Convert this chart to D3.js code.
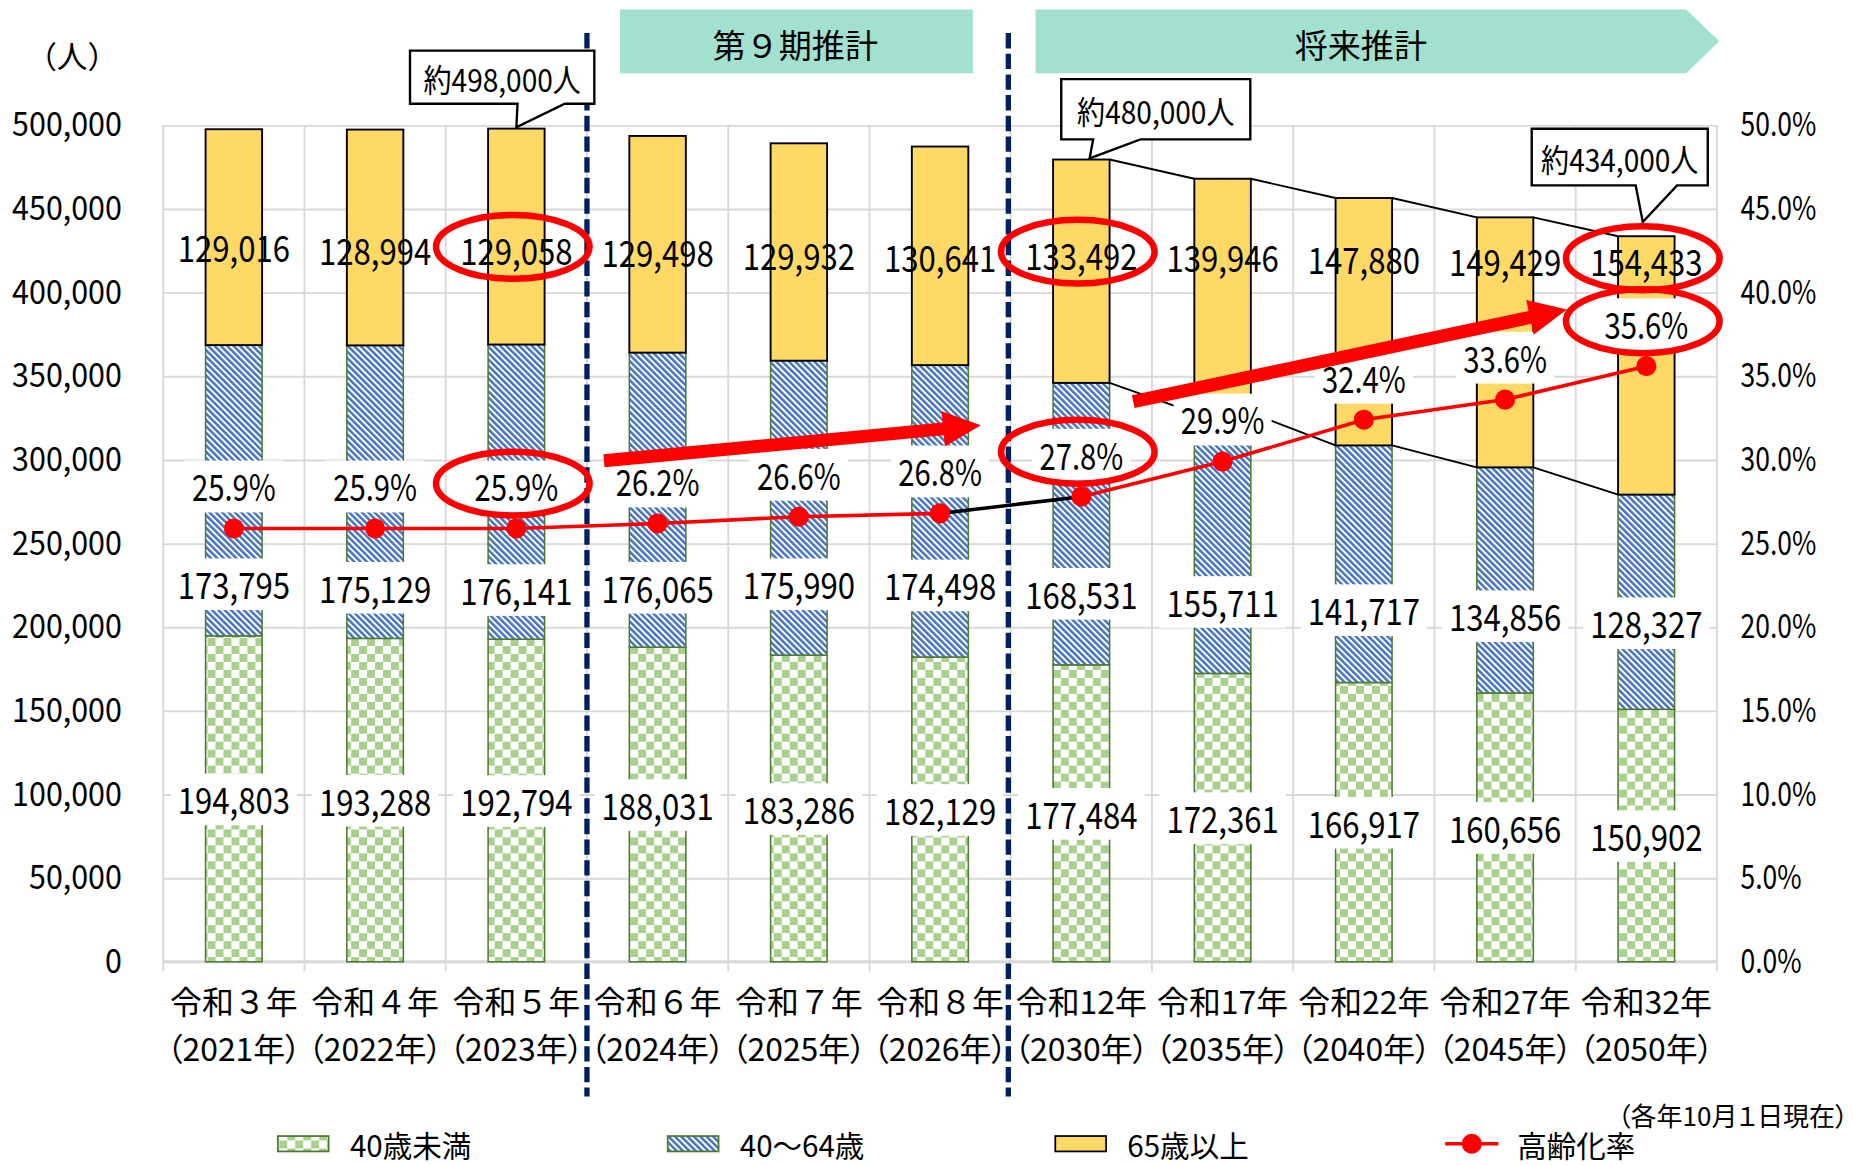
<!DOCTYPE html>
<html>
<head>
<meta charset="utf-8">
<script src="https://cdn.jsdelivr.net/npm/d3@7"></script>
<style>
  body { margin: 0; background: #fff; }
  svg text { font-family: "Noto Sans CJK JP", sans-serif; fill: #000; }
  .palt { font-feature-settings: "palt"; }
</style>
</head>
<body>
<div id="canvas"></div>
<script>
const categories = ["令和３年","令和４年","令和５年","令和６年","令和７年","令和８年","令和12年","令和17年","令和22年","令和27年","令和32年"];
const years = ["（2021年）","（2022年）","（2023年）","（2024年）","（2025年）","（2026年）","（2030年）","（2035年）","（2040年）","（2045年）","（2050年）"];
const under40 = [194803,193288,192794,188031,183286,182129,177484,172361,166917,160656,150902];
const age40to64 = [173795,175129,176141,176065,175990,174498,168531,155711,141717,134856,128327];
const age65plus = [129016,128994,129058,129498,129932,130641,133492,139946,147880,149429,154433];
const agingRate = [25.9,25.9,25.9,26.2,26.6,26.8,27.8,29.9,32.4,33.6,35.6];
const leftTicks = [0,50000,100000,150000,200000,250000,300000,350000,400000,450000,500000];
const rightTicks = [0,5,10,15,20,25,30,35,40,45,50];
const seriesNames = ["40歳未満","40～64歳","65歳以上","高齢化率"];
const periods = ["第９期推計","将来推計"];
const totalNotes = ["約498,000人","約480,000人","約434,000人"];
const totalNoteAt = [2,6,10];
const unitLabel = "（人）";
const dateNote = "（各年10月１日現在）";
// the source chart has the 40-64 and 65+ labels dragged by hand, these are where they sit (people)
const midLabelAt = [226000,223900,222500,223900,226000,225300,220300,215400,210500,206900,202700];
const topLabelAt = [427300,425900,425900,424400,423000,421600,423000,421600,420200,419100,419100];

const W = 1568, H = 986;
const pL = 138, pR = 1453, pT = 106, pB = 814;
// the original uses a narrow face for figures, squeeze ours horizontally
const sqTick = 0.92, sqNum = 0.85, sqPct = 0.8;

const svg = d3.select("#canvas").append("svg")
  .attr("width", 1853).attr("height", 1165)
  .attr("viewBox", `0 0 ${W} ${H}`);

const defs = svg.append("defs");
const chk = defs.append("pattern").attr("id", "chk").attr("patternUnits", "userSpaceOnUse")
  .attr("width", 13.5).attr("height", 13.5);
chk.append("rect").attr("width", 13.5).attr("height", 13.5).attr("fill", "#fff");
chk.append("rect").attr("width", 6.75).attr("height", 6.75).attr("fill", "#a9d18e");
chk.append("rect").attr("x", 6.75).attr("y", 6.75).attr("width", 6.75).attr("height", 6.75).attr("fill", "#a9d18e");
const stripe = defs.append("pattern").attr("id", "stripe").attr("patternUnits", "userSpaceOnUse")
  .attr("width", 3.8).attr("height", 10).attr("patternTransform", "rotate(-45)");
stripe.append("rect").attr("width", 3.8).attr("height", 10).attr("fill", "#fff");
stripe.append("rect").attr("width", 2.1).attr("height", 10).attr("fill", "#4472c4");

const x = d3.scaleBand().domain(categories).range([pL, pR]).paddingInner(0.6).paddingOuter(0.3);
const y = d3.scaleLinear().domain([0, 500000]).range([pB, pT]);
const yR = d3.scaleLinear().domain([0, 50]).range([pB, pT]);
const step = x.step(), bw = x.bandwidth();
const cx = i => x(categories[i]) + bw / 2;
const edge = i => pL + step * i;

// grid + axes
svg.append("g").attr("transform", `translate(${pL},0)`)
  .call(d3.axisLeft(y).tickValues(leftTicks).tickSize(-(pR - pL)).tickPadding(35).tickFormat(d3.format(",")))
  .call(g => g.select(".domain").remove())
  .call(g => g.selectAll(".tick line").attr("stroke", "#d9d9d9").attr("stroke-width", 1.6))
  .call(g => g.selectAll(".tick text").attr("font-size", 28).attr("font-family", null)
    .attr("transform", `scale(${sqTick},1)`).attr("x", -35 / sqTick));
svg.append("g").attr("transform", `translate(${pR},0)`)
  .call(d3.axisRight(yR).tickValues(rightTicks).tickSize(0).tickPadding(20).tickFormat(d => d.toFixed(1) + "%"))
  .call(g => g.select(".domain").remove())
  .call(g => g.selectAll(".tick text").attr("font-size", 28).attr("font-family", null)
    .attr("transform", `scale(${sqPct},1)`).attr("x", 20 / sqPct));
svg.append("g").selectAll("line").data(d3.range(categories.length + 1)).join("line")
  .attr("x1", edge).attr("x2", edge).attr("y1", pT).attr("y2", pB + 8)
  .attr("stroke", "#d9d9d9").attr("stroke-width", 1.6);
svg.append("line").attr("x1", pL).attr("x2", pR).attr("y1", pB).attr("y2", pB)
  .attr("stroke", "#d9d9d9").attr("stroke-width", 2.4);

// stacked bars
const stackData = categories.map((c, i) => ({ c, a: under40[i], b: age40to64[i], d: age65plus[i] }));
const stack = d3.stack().keys(["a", "b", "d"])(stackData);
const fills = ["url(#chk)", "url(#stripe)", "#ffd966"];
const strokes = ["#4e7a2f", "#4e7a2f", "#000"];
stack.forEach((layer, k) => {
  svg.append("g").selectAll("rect").data(layer).join("rect")
    .attr("x", d => x(d.data.c)).attr("width", bw)
    .attr("y", d => y(d[1])).attr("height", d => y(d[0]) - y(d[1]))
    .attr("fill", fills[k]).attr("stroke", strokes[k]).attr("stroke-width", k === 2 ? 1.6 : 1.3);
});

// series lines on the future projection part
const sl = svg.append("g").attr("stroke", "#000").attr("stroke-width", 1.6);
[stack[1], stack[2]].forEach(layer => {
  for (let i = 6; i < categories.length - 1; i++) {
    sl.append("line")
      .attr("x1", x(categories[i]) + bw).attr("y1", y(layer[i][1]))
      .attr("x2", x(categories[i + 1])).attr("y2", y(layer[i + 1][1]));
  }
});

// aging rate line
const pts = agingRate.map((r, i) => [cx(i), yR(r)]);
const line = d3.line();
svg.append("path").attr("d", line(pts.slice(0, 6))).attr("fill", "none").attr("stroke", "#ff0000").attr("stroke-width", 3);
svg.append("path").attr("d", line(pts.slice(5, 7))).attr("fill", "none").attr("stroke", "#000").attr("stroke-width", 3);
svg.append("path").attr("d", line(pts.slice(6))).attr("fill", "none").attr("stroke", "#ff0000").attr("stroke-width", 3);
svg.append("g").selectAll("circle").data(pts).join("circle")
  .attr("cx", d => d[0]).attr("cy", d => d[1]).attr("r", 8.5).attr("fill", "#ff0000");

// data labels
const fmt = d3.format(",");
function label(px, py, str, boxed, f) {
  const g = svg.append("g").attr("transform", `translate(${px},${py}) scale(${f},1)`);
  const rect = boxed ? g.append("rect").attr("fill", "#fff") : null;
  const t = g.append("text").attr("text-anchor", "middle")
    .attr("dominant-baseline", "central").attr("font-size", 31).text(str);
  if (rect) {
    const b = t.node().getBBox();
    rect.attr("x", b.x - 6 / f).attr("y", b.y + 1).attr("width", b.width + 12 / f).attr("height", b.height - 1);
  }
  return [px, py];
}
const labelPos = { top: [], rate: [] };
categories.forEach((c, i) => {
  label(cx(i), y(under40[i] / 2), fmt(under40[i]), true, sqNum);
  label(cx(i), y(midLabelAt[i]), fmt(age40to64[i]), true, sqNum);
  labelPos.top.push(label(cx(i), y(topLabelAt[i]), fmt(age65plus[i]), false, sqNum));
  labelPos.rate.push(label(cx(i), yR(agingRate[i]) - 36, agingRate[i].toFixed(1) + "%", true, sqPct));
});

// period separators
const seps = [edge(3), edge(6) - 2];
svg.append("g").selectAll("line").data(seps).join("line")
  .attr("x1", d => d).attr("x2", d => d).attr("y1", 28).attr("y2", 928)
  .attr("stroke", "#002060").attr("stroke-width", 4.5).attr("stroke-dasharray", "13,4.5");

// period headers
svg.append("rect").attr("x", seps[0] + 28).attr("y", 8).attr("width", seps[1] - seps[0] - 58).attr("height", 54)
  .attr("fill", "#a2e1d0");
svg.append("text").attr("x", (seps[0] + seps[1]) / 2 - 2).attr("y", 37).attr("text-anchor", "middle")
  .attr("dominant-baseline", "central").attr("font-size", 28).text(periods[0]);
const hx0 = seps[1] + 23, hx1 = pR - 26, hx2 = pR + 2;
svg.append("path").attr("d", `M${hx0},8H${hx1}L${hx2},35L${hx1},62H${hx0}Z`).attr("fill", "#a2e1d0");
svg.append("text").attr("x", (hx0 + hx1) / 2).attr("y", 37).attr("text-anchor", "middle")
  .attr("dominant-baseline", "central").attr("font-size", 28).text(periods[1]);

// total callouts
const calloutLayout = [
  { tip: [0, -1], box: [-90, -66, 66, -21], base: [1, 41] },
  { tip: [7, -1], box: [-17, -68, 143, -17], base: [10, 50] },
  { tip: [-3, -12], box: [-97, -91, 52, -43], base: [-9, 26] }
];
totalNoteAt.forEach((i, k) => {
  const L = calloutLayout[k];
  const bx = cx(i), by = y(under40[i] + age40to64[i] + age65plus[i]);
  const tx = bx + L.tip[0], ty = by + L.tip[1];
  const x0 = bx + L.box[0], y0 = by + L.box[1], x1 = bx + L.box[2], y1 = by + L.box[3];
  svg.append("path")
    .attr("d", `M${x0},${y0}H${x1}V${y1}H${bx + L.base[1]}L${tx},${ty}L${bx + L.base[0]},${y1}H${x0}Z`)
    .attr("fill", "#fff").attr("stroke", "#000").attr("stroke-width", 2);
  svg.append("text").attr("transform", `translate(${(x0 + x1) / 2},${(y0 + y1) / 2 + 1}) scale(0.88,1)`)
    .attr("text-anchor", "middle").attr("dominant-baseline", "central").attr("font-size", 27).text(totalNotes[k]);
});

// big red trend arrows
function arrowPath(x1, y1, x2, y2, shaft, headLen, headW) {
  const L = Math.hypot(x2 - x1, y2 - y1), ux = (x2 - x1) / L, uy = (y2 - y1) / L, nx = -uy, ny = ux;
  const bx = x2 - ux * headLen, by = y2 - uy * headLen;
  const p = [
    [x1 + nx * shaft / 2, y1 + ny * shaft / 2], [bx + nx * shaft / 2, by + ny * shaft / 2],
    [bx + nx * headW / 2, by + ny * headW / 2], [x2, y2],
    [bx - nx * headW / 2, by - ny * headW / 2], [bx - nx * shaft / 2, by - ny * shaft / 2],
    [x1 - nx * shaft / 2, y1 - ny * shaft / 2]
  ];
  return "M" + p.map(q => q.join(",")).join("L") + "Z";
}
svg.append("path").attr("d", arrowPath(511, 390, 830, 360, 11, 32, 30)).attr("fill", "#ff0000");
svg.append("path").attr("d", arrowPath(959, 340, 1326, 262, 11, 32, 30)).attr("fill", "#ff0000");

// highlight rings
const rings = [["top", 2], ["rate", 2], ["top", 6], ["rate", 6], ["top", 10], ["rate", 10]];
svg.append("g").selectAll("ellipse").data(rings).join("ellipse")
  .attr("cx", d => labelPos[d[0]][d[1]][0] - 3).attr("cy", d => labelPos[d[0]][d[1]][1] - 2)
  .attr("rx", 65).attr("ry", 27)
  .attr("fill", "none").attr("stroke", "#ff0000").attr("stroke-width", 5.5);

// category labels, two lines
const xl = svg.append("g").attr("text-anchor", "middle").attr("font-size", 27);
categories.forEach((c, i) => {
  xl.append("text").attr("x", cx(i)).attr("y", 846).attr("dominant-baseline", "central").text(c);
  xl.append("text").attr("class", "palt").attr("x", cx(i)).attr("y", 886)
    .attr("dominant-baseline", "central").text(years[i]);
});

svg.append("text").attr("x", 61).attr("y", 46).attr("text-anchor", "middle")
  .attr("dominant-baseline", "central").attr("font-size", 26).text(unitLabel);
svg.append("text").attr("class", "palt").attr("x", 1564).attr("y", 943).attr("text-anchor", "end")
  .attr("dominant-baseline", "central").attr("font-size", 22).text(dateNote);

// legend
const lg = svg.append("g");
const legX = [235, 565, 893, 1223];
const legY = 968;
[0, 1, 2].forEach(k => {
  lg.append("rect").attr("x", legX[k]).attr("y", legY - 6.5).attr("width", 43).attr("height", 13)
    .attr("fill", fills[k]).attr("stroke", strokes[k]).attr("stroke-width", 1.5);
});
lg.append("line").attr("x1", legX[3]).attr("x2", legX[3] + 45).attr("y1", legY).attr("y2", legY)
  .attr("stroke", "#ff0000").attr("stroke-width", 3);
lg.append("circle").attr("cx", legX[3] + 22.5).attr("cy", legY).attr("r", 8.5).attr("fill", "#ff0000");
seriesNames.forEach((s, k) => {
  lg.append("text").attr("x", legX[k] + 61).attr("y", legY + 1).attr("dominant-baseline", "central")
    .attr("font-size", 25).text(s);
});
</script>
</body>
</html>
